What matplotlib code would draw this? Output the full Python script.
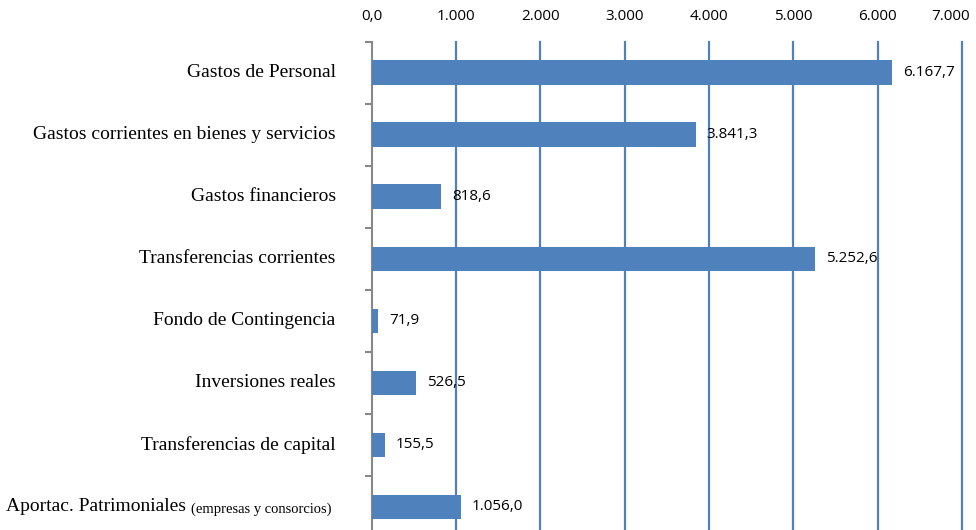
import matplotlib
matplotlib.use('Agg')
import matplotlib.pyplot as plt
import matplotlib.transforms as mtransforms
import numpy as np

# datos
categorias = ['Gastos de Personal', 'Gastos corrientes en bienes y servicios',
              'Gastos financieros', 'Transferencias corrientes',
              'Fondo de Contingencia', 'Inversiones reales',
              'Transferencias de capital', 'Aportac. Patrimoniales']
valores = [6167.7, 3841.3, 818.6, 5252.6, 71.9, 526.5, 155.5, 1056.0]
ticks_x = [0, 1000, 2000, 3000, 4000, 5000, 6000, 7000]


def fmt_es(v, dec=1):
    s = f'{v:,.{dec}f}'
    return s.replace(',', 'X').replace('.', ',').replace('X', '.')


color_barra = '#4F81BD'
color_grid = '#4F81BD'

fig = plt.figure(figsize=(9.76, 5.30), dpi=100)
ax = fig.add_axes([0.381, -0.015, 0.6045, 0.936])

y = np.arange(len(categorias))
ax.barh(y, valores, height=0.4, color=color_barra, zorder=3)
ax.set_ylim(len(categorias) - 0.5, -0.5)
ax.set_xlim(0, 7000)

# rejilla vertical
for t in ticks_x[1:]:
    ax.axvline(t, color=color_grid, lw=1.6, zorder=1, clip_on=False)

ax.xaxis.tick_top()
ax.set_xticks(ticks_x)
ax.set_xticklabels([fmt_es(t, 1) if t == 0 else fmt_es(t, 0) for t in ticks_x],
                   fontsize=11, family='Open Sans')
ax.tick_params(axis='x', length=0, pad=13)
# la ultima etiqueta se desplaza un poco a la izquierda para que quepa
ult = ax.get_xticklabels()[-1]
ult.set_transform(ult.get_transform() + mtransforms.ScaledTranslation(-8 / 72, 0, fig.dpi_scale_trans))

ax.set_yticks(y)
ax.set_yticklabels([])
ax.tick_params(axis='y', which='major', length=0)
ax.set_yticks(np.arange(len(categorias) + 1) - 0.5, minor=True)
ax.tick_params(axis='y', which='minor', length=5, width=1.5, color='#888888')

for s in ['top', 'right', 'bottom']:
    ax.spines[s].set_visible(False)
ax.spines['left'].set_color('#888888')
ax.spines['left'].set_linewidth(1.5)

# etiquetas de categorias
for i, c in enumerate(categorias[:-1]):
    ax.annotate(c, (0, i), xycoords='data', xytext=(-26, 0), textcoords='offset points',
                ha='right', va='center', fontsize=14, family='Liberation Serif')

peq = ax.annotate('(empresas y consorcios)', (0, 7), xycoords='data', xytext=(-29, -2),
                  textcoords='offset points', ha='right', va='center', fontsize=10.5,
                  family='Liberation Serif')
fig.canvas.draw()
bb = peq.get_window_extent()
x0 = (bb.x0 - ax.transData.transform((0, 7))[0]) * 72 / fig.dpi
ax.annotate('Aportac. Patrimoniales ', (0, 7), xycoords='data', xytext=(x0, 0),
            textcoords='offset points', ha='right', va='center', fontsize=14,
            family='Liberation Serif')

# etiquetas de datos
for i, v in enumerate(valores):
    ax.annotate(fmt_es(v), (v, i), xytext=(8, 0), textcoords='offset points',
                ha='left', va='center', fontsize=11, family='Open Sans', zorder=5)

fig.savefig('out.png', dpi=100)
